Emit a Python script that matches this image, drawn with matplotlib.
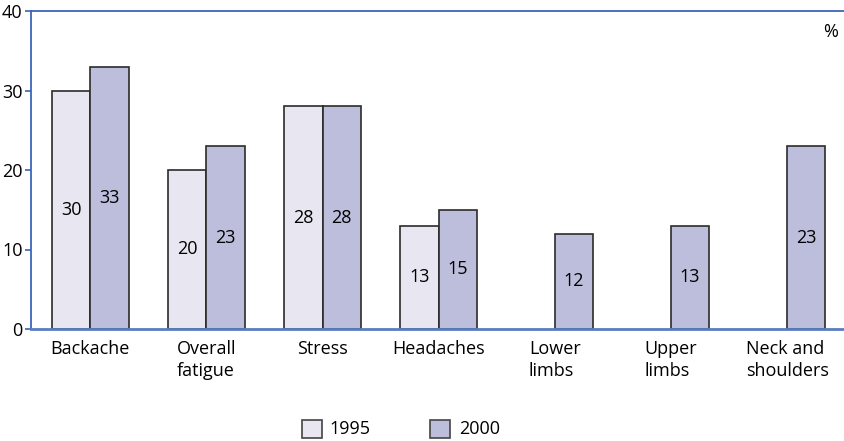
import matplotlib
matplotlib.use("Agg")
import matplotlib.pyplot as plt
import numpy as np
from matplotlib.patches import Rectangle

categories = ["Backache", "Overall\nfatigue", "Stress", "Headaches", "Lower\nlimbs", "Upper\nlimbs", "Neck and\nshoulders"]
values_1995 = [30, 20, 28, 13, None, None, None]
values_2000 = [33, 23, 28, 15, 12, 13, 23]
series_names = ["1995", "2000"]
yticks = [0, 10, 20, 30, 40]

plt.rcParams['font.family'] = ['Open Sans', 'DejaVu Sans']
FS = 13
c1995 = "#e8e7f1"
c2000 = "#bdbddc"
edge = "#2b2b2b"
axis_col = "#3d64b5"

fig = plt.figure(figsize=(8.44, 4.41), dpi=100)
ax = fig.add_axes([31/844, 1-329/441, 1-31/844, (329-11)/441])

x = np.arange(len(categories))
w = 0.33
for i, (a, b) in enumerate(zip(values_1995, values_2000)):
    if a is not None:
        ax.bar(x[i]-w/2, a, w, color=c1995, edgecolor=edge, linewidth=1.2, zorder=2)
        ax.text(x[i]-w/2, a/2, str(a), ha='center', va='center', fontsize=FS, zorder=3)
    if b is not None:
        ax.bar(x[i]+w/2, b, w, color=c2000, edgecolor=edge, linewidth=1.2, zorder=2)
        ax.text(x[i]+w/2, b/2, str(b), ha='center', va='center', fontsize=FS, zorder=3)

ax.set_xlim(-0.51, 6.49)
ax.set_ylim(0, 40)
ax.set_yticks(yticks)
ax.set_yticklabels([str(t) for t in yticks], fontsize=FS)
ax.set_xticks(x)
ax.set_xticklabels(categories, fontsize=FS, multialignment='left', linespacing=1.25)
ax.tick_params(axis='x', length=0, pad=8)
ax.tick_params(axis='y', length=4, width=1.2, color=axis_col, pad=2)
for s in ['left', 'top', 'bottom']:
    ax.spines[s].set_color(axis_col)
    ax.spines[s].set_linewidth(1.3)
    ax.spines[s].set_zorder(4)
ax.spines['right'].set_visible(False)
ax.spines['bottom'].set_color("#5b7cc2")
ax.spines['bottom'].set_linewidth(2)

fig.text(838/844, 1-32/441, "%", ha='right', va='center', fontsize=FS)

# legend
for (sx, tx, col, name) in [(302, 329, c1995, series_names[0]), (430, 459, c2000, series_names[1])]:
    fig.patches.append(Rectangle((sx/844, 1-438/441), 20/844, 18/441, transform=fig.transFigure,
                                 facecolor=col, edgecolor="#444444", linewidth=1.2))
    fig.text(tx/844, 1-429/441, name, ha='left', va='center', fontsize=FS)

fig.savefig("out.png", dpi=100)
